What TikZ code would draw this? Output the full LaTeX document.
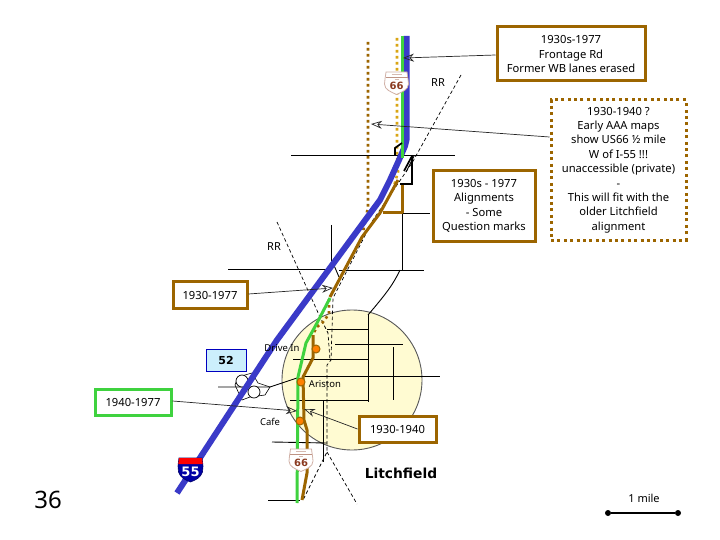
\documentclass[tikz,border=0pt]{standalone}
\usepackage{fontspec}
\setmainfont{Noto Sans}
\newfontfamily\heavyfont{DejaVu Sans}
\usetikzlibrary{arrows.meta}
\definecolor{brownline}{HTML}{9C6500}
\definecolor{dotgold}{HTML}{D9A514}
\definecolor{blueline}{HTML}{3A3AC8}
\definecolor{greenline}{HTML}{3FD23F}
\definecolor{cityfill}{HTML}{FFFBD2}
\definecolor{shieldred}{HTML}{8A3A20}
\tikzset{
  x=1pt,y=-1pt,
  callout/.style={draw=brownline,line width=3pt,fill=white,align=center,font=\fontsize{11.2}{14.4}\selectfont,inner sep=0pt,minimum height=#1},
  calloutarrow/.style={-{Stealth[open,length=11pt,width=8pt]},line width=0.7pt,draw=black!85},
  road/.style={line width=0.9pt,draw=black},
  thick road/.style={line width=1.7pt,draw=black},
  rail/.style={dashed,dash pattern=on 3.5pt off 2.5pt,line width=0.7pt,draw=black},
  interstate/.style={line width=6pt,draw=blueline,line join=round},
  us old/.style={line width=3pt,draw=brownline,line join=round},
  us new/.style={line width=3pt,draw=greenline,line join=round},
  dots gold/.style={line width=2.6pt,draw=brownline,dash pattern=on 2.6pt off 3.4pt},
  dots yellow/.style={line width=2.6pt,draw=dotgold,dash pattern=on 2.6pt off 3.4pt},
  label/.style={font=\fontsize{11}{13}\selectfont,inner sep=0pt},
  small label/.style={font=\fontsize{9.5}{11}\selectfont,inner sep=0pt},
  stop/.style={circle,draw=brownline,fill=orange,line width=1pt,minimum size=8pt,inner sep=0pt},
  usshield/.pic={
    \path[fill=white,draw=shieldred!40,line width=0.8pt] (-10.5,-11) -- (10.5,-11) .. controls (11,-6) and (12,-3) .. (12,1) .. controls (12,7) and (5,9) .. (0,11.5) .. controls (-5,9) and (-12,7) .. (-12,1) .. controls (-12,-3) and (-11,-6) .. (-10.5,-11) -- cycle;
    \draw[shieldred!55,line width=1.2pt] (-11,-5.5) -- (11,-5.5);
    \draw[shieldred!35,line width=0.8pt] (-5,-8.5) -- (5,-8.5);
    \draw[shieldred!35,line width=0.7pt] (-2,-3.5) -- (2,-3.5);
    \node[inner sep=0pt,text=shieldred,font=\heavyfont\fontsize{10}{10}\selectfont\bfseries] at (0,2.5) {66};
  },
  ishield/.pic={
    \path[fill=blue!65!black,draw=blue!40!black,line width=0.6pt] (-11.5,-12) -- (11.5,-12) .. controls (12.5,-5) and (13,-2) .. (12,2) .. controls (10,8) and (5,10) .. (0,12) .. controls (-5,10) and (-10,8) .. (-12,2) .. controls (-13,-2) and (-12.5,-5) .. (-11.5,-12) -- cycle;
    \path[fill=red] (-11.5,-12) -- (11.5,-12) -- (12.2,-6) -- (-12.2,-6) -- cycle;
    \node[inner sep=0pt,text=white,font=\heavyfont\fontsize{13}{13}\selectfont\bfseries] at (0,2) {55};
  }
}
\begin{document}
\begin{tikzpicture}
\useasboundingbox[fill=white] (0,0) rectangle (720,540);
% town
\path[fill=cityfill,draw=black!65,line width=0.9pt] (352,380) circle[radius=70];
% thin roads
\draw[road] (291,155) -- (455,155);
\draw[road] (228,269) -- (330,269);
\draw[road] (339,270) -- (424,270);
\draw[road] (331,225) -- (331,269);
\draw[road] (328,267) -- (333,263) -- (339,277);
\draw[road] (402,213) -- (402,270);
\draw[road] (402,213) -- (430,213);
\draw[road] (400,270) .. controls (393,285) and (385,295) .. (368,315);
\draw[road] (368,315) -- (368,402);
\draw[road] (327,329) -- (368,329);
\draw[road] (335,344) -- (403,344);
\draw[road] (393,347) -- (393,400);
\draw[road] (293,359) -- (368,359);
\draw[road] (305,376) -- (440,376);
\draw[road] (218,387) -- (270,387) -- (297,378);
\draw[road] (290,400) -- (368,400);
\draw[road] (323,400) -- (323,462);
\draw[road] (272,442) -- (327,443);
\draw[road] (268,500) -- (300,500);
% railroads
\draw[rail] (461,75) -- (412,163) -- (373,220) -- (333,298) -- (331,360) -- (327,365) -- (327,452) -- (303,500);
\draw[rail] (277,222) -- (320,317) -- (328,333) -- (330,360);
\draw[rail] (327,452) -- (357,504);
% interchange
\draw[road,line width=0.6pt] (235,385) -- (242,400) -- (250,397) -- (265,395) -- (270,387) -- (258,383) -- (252,373) -- (238,377) -- cycle;
\draw[road,fill=white,line width=0.7pt] (242,381) circle[radius=6];
\draw[road,fill=white,line width=0.7pt] (254,392) circle[radius=6];
% dotted alignments
\draw[dots gold] (368,42) -- (368,207) -- (363,232);
\draw[dots yellow] (397,38) -- (397,153) -- (398,172) -- (394,186);
\draw[dots gold] (329,299) -- (329,314) -- (323,322) -- (317,327) -- (313,334);
% highways
\draw[interstate] (406.5,36) -- (406.5,140) -- (405,146) -- (399,160) -- (390,180) -- (380,200) -- (277,340) -- (177,493);
\draw[us new] (402,36) -- (402,158);
\draw[us new] (330,298) -- (317,323) -- (306,343) -- (298,377) -- (297,503);
\draw[us old] (402,185) -- (402,213) -- (383,213);
\draw[us old] (398,180) -- (380,213) -- (362,237) -- (330,297);
\draw[us old] (313,335) -- (313,358) -- (303,377) -- (304,420) -- (307,430) -- (307,473) -- (302,500);
% black heavy fragments
\draw[thick road] (412,155) -- (412,184) -- (400,184);
\draw[thick road] (395,155) -- (395,148) -- (402,143);
\draw[thick road] (412,156) -- (404,171);
\draw[road] (414,156) -- (406,172);
% stops
\node[stop] (drivein) at (316,349) {};
\node[stop] (ariston) at (301,382) {};
\node[stop] (cafe) at (300,421) {};
% shields
\pic at (396.5,83) {usshield};
\pic at (301,460) {usshield};
\pic at (190.5,470) {ishield};
% callouts
\node[callout=54pt,minimum width=148pt] (c1) at (571,54) {1930s-1977\\Frontage Rd\\Former WB lanes erased};
\node[callout=140pt,minimum width=135pt,dash pattern=on 3pt off 3.4pt] (c2) at (618.5,170) {1930-1940 ?\\Early AAA maps\\show US66 ½ mile\\W of I-55 !!!\\unaccessible (private)\\-\\This will fit with the\\older Litchfield\\alignment};
\node[callout=70pt,minimum width=102pt] (c3) at (484,206) {1930s - 1977\\Alignments\\- Some\\Question marks};
\node[callout=27pt,minimum width=74pt] (c4) at (210,295) {1930-1977};
\node[callout=26pt,minimum width=76pt,draw=greenline] (c5) at (133,402) {1940-1977};
\node[callout=26pt,minimum width=77pt] (c6) at (397.5,429) {1930-1940};
\node[draw=blue!75!black,fill=cyan!20,line width=0.8pt,minimum width=40pt,minimum height=22pt,inner sep=0pt,font=\heavyfont\fontsize{11}{11}\selectfont\bfseries] (route) at (226,360) {52};
% arrow ends
\coordinate (a1) at (403,58);
\coordinate (a2) at (371,124);
\coordinate (a3) at (333,288);
\coordinate (a4) at (297,411);
\coordinate (a5) at (304,409);
\draw[calloutarrow] (c1.west |- 0,55) -- (a1);
\draw[calloutarrow] (c2.west |- 0,137) -- (a2);
\draw[calloutarrow] (c4.east |- 0,294) -- (a3);
\draw[calloutarrow] (c5.east |- 0,401) -- (a4);
\draw[calloutarrow] (c6.west) -- (a5);
% labels
\node[label] (rr1) at (438,83) {RR};
\node[label] (rr2) at (274,247) {RR};
\node[small label] (ldrive) at (282,348) {Drive In};
\node[small label] (lariston) at (325,384) {Ariston};
\node[small label] (lcafe) at (270,422) {Cafe};
\node[label,font=\heavyfont\fontsize{13.8}{15}\selectfont\bfseries] (town) at (401,473) {Litchfield};
\node[label,font=\fontsize{24}{26}\selectfont] (page) at (48,500) {36};
\node[label] (miles) at (644,498) {1 mile};
% scale bar
\node[circle,fill=black,minimum size=6pt,inner sep=0pt] (s1) at (608,513) {};
\node[circle,fill=black,minimum size=6pt,inner sep=0pt] (s2) at (678,513) {};
\draw[line width=1.2pt] (s1) -- (s2);
\end{tikzpicture}
\end{document}
